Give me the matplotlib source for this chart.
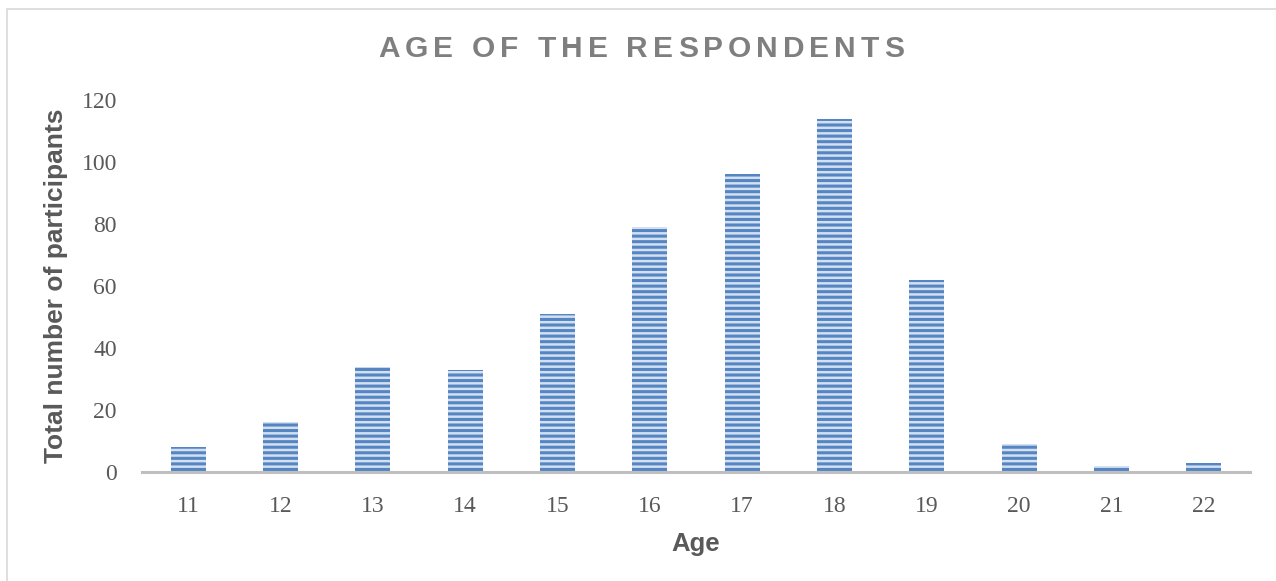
import numpy as np
import matplotlib.pyplot as plt
from matplotlib.patches import Rectangle

# Respondent counts by age
ages = ['11', '12', '13', '14', '15', '16', '17', '18', '19', '20', '21', '22']
counts = [8, 16, 34, 33, 51, 79, 96, 114, 62, 9, 2, 3]

title = 'AGE OF THE RESPONDENTS'
xlabel = 'Age'
ylabel = 'Total number of participants'

grey = '#595959'
plt.rcParams['hatch.linewidth'] = 2.2

fig = plt.figure(figsize=(12.76, 5.81), dpi=100)
fig.patches.append(Rectangle((7/1276, -0.1), 1.2, 1.1 - 9/581, transform=fig.transFigure,
                             fill=False, edgecolor='#d9d9d9', linewidth=1.2))

ax = fig.add_axes([142/1276, 1-472/581, 1108/1276, 372/581])
x = np.arange(len(ages))
ax.bar(x, counts, width=0.38, color='#d3e0f0', edgecolor='#5585c2', linewidth=0,
       hatch='---', zorder=2)

ax.set_xlim(-0.5, len(ages) - 0.5)
ax.set_ylim(0, 120)
ax.set_yticks(np.arange(0, 121, 20))
ax.set_xticks(x)
ax.set_xticklabels(ages)
for s in ['top', 'right', 'left']:
    ax.spines[s].set_visible(False)
ax.spines['bottom'].set_color('#bfbfbf')
ax.spines['bottom'].set_linewidth(2.2)
ax.spines['bottom'].set_zorder(3)
ax.tick_params(length=0, labelsize=17, labelcolor=grey)
ax.tick_params(axis='x', pad=17)
ax.tick_params(axis='y', pad=18)
for lab in ax.get_xticklabels() + ax.get_yticklabels():
    lab.set_family('Liberation Serif')

ax.set_xlabel(xlabel, fontsize=18.5, fontweight='bold', color=grey, family='Liberation Sans', labelpad=11)
ax.set_ylabel(ylabel, fontsize=19, fontweight='bold', color=grey, family='Liberation Sans', labelpad=10)

# title with wide letter spacing, drawn one letter at a time
fig.canvas.draw()
renderer = fig.canvas.get_renderer()
kw = dict(fontsize=21.5, fontweight='bold', color='#7f7f7f', family='Liberation Sans', va='center', ha='left')
spacing = 5.0
widths = []
for ch in title:
    t = fig.text(0, 0, ch if ch != ' ' else 'o', **kw)
    w = t.get_window_extent(renderer).width
    if ch == ' ':
        w *= 0.5
    widths.append(w)
    t.remove()
total = sum(widths) + spacing * (len(title) - 1)
xpos = 641 - total / 2
for ch, w in zip(title, widths):
    if ch != ' ':
        fig.text(xpos / 1276, 1 - 49 / 581, ch, **kw)
    xpos += w + spacing

fig.savefig('out.png', dpi=100)
